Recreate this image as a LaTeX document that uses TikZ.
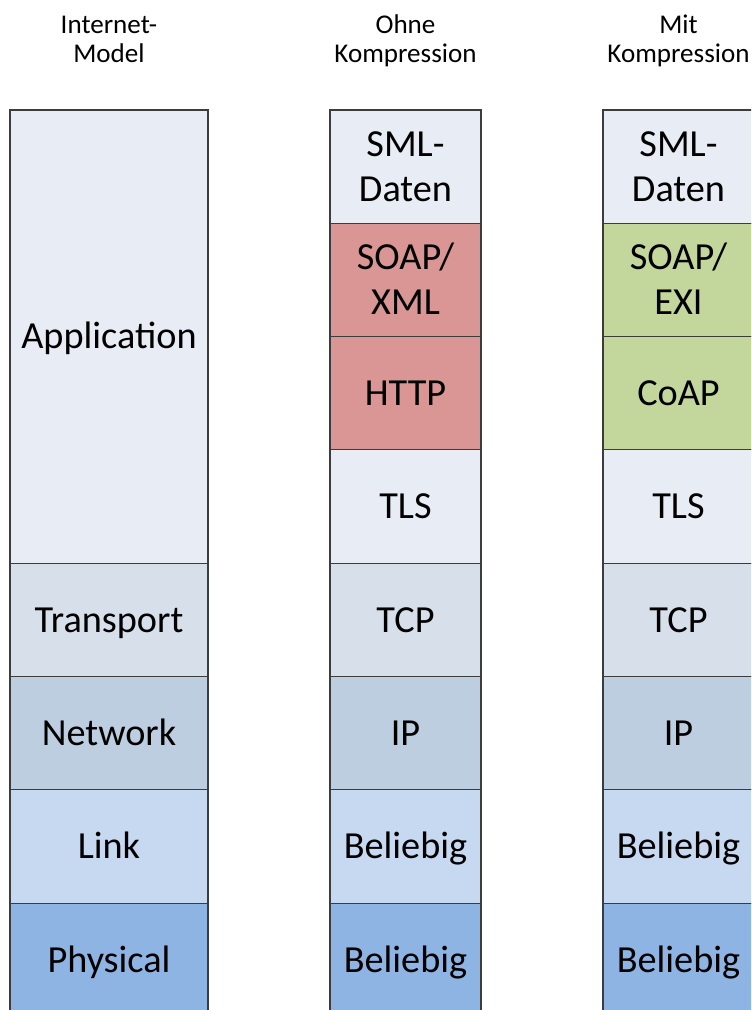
\documentclass[tikz,border=0pt]{standalone}
\usepackage{fontspec}
\setmainfont{Carlito}
\definecolor{appc}{HTML}{E8ECF4}
\definecolor{trac}{HTML}{D6DFEA}
\definecolor{netc}{HTML}{BDCEE1}
\definecolor{linc}{HTML}{C6D9F0}
\definecolor{phyc}{HTML}{8EB4E3}
\definecolor{redc}{HTML}{D99694}
\definecolor{grnc}{HTML}{C3D69B}
\definecolor{edgec}{HTML}{3C3C3C}
\begin{document}
\begin{tikzpicture}[x=0.75pt,y=-0.75pt,
  layer/.style={draw=edgec, line width=0.8pt, inner sep=0pt, outer sep=0pt,
    minimum width=113.25pt, minimum height=85pt,
    font=\fontsize{28.7}{33.75}\selectfont, text height=18.5pt, text depth=0pt, align=center},
  two/.style={text height=52.25pt},
  wide/.style={minimum width=148.5pt},
  head/.style={font=\fontsize{20.3}{21.75}\selectfont, align=center, inner sep=0pt, anchor=base}]
\useasboundingbox (0,0) rectangle (751,1010);
\clip (0,0) rectangle (751,1010);
% headers
\node[head] (h1) at (109,62.5) {Internet-\\Model};
\node[head] (h2) at (405.5,62.5) {Ohne\\Kompression};
\node[head] (h3) at (678.5,62.5) {Mit\\Kompression};
% Internet model
\node[layer, wide, fill=appc, minimum height=339.9pt] (lapp) at (109,336.6) {Application};
\node[layer, wide, fill=trac] (ltra) at (109,619.85) {Transport};
\node[layer, wide, fill=netc] (lnet) at (109,733.15) {Network};
\node[layer, wide, fill=linc] (llin) at (109,846.45) {Link};
\node[layer, wide, fill=phyc] (lphy) at (109,959.75) {Physical};
% ohne Kompression
\node[layer, two, fill=appc] (msml) at (405.5,166.65) {SML-\\Daten};
\node[layer, two, fill=redc] (msoap) at (405.5,279.95) {SOAP/\\XML};
\node[layer, fill=redc] (mhttp) at (405.5,393.25) {HTTP};
\node[layer, fill=appc] (mtls) at (405.5,506.55) {TLS};
\node[layer, fill=trac] (mtcp) at (405.5,619.85) {TCP};
\node[layer, fill=netc] (mip) at (405.5,733.15) {IP};
\node[layer, fill=linc] (mlin) at (405.5,846.45) {Beliebig};
\node[layer, fill=phyc] (mphy) at (405.5,959.75) {Beliebig};
% mit Kompression
\node[layer, two, fill=appc] (rsml) at (678.5,166.65) {SML-\\Daten};
\node[layer, two, fill=grnc] (rsoap) at (678.5,279.95) {SOAP/\\EXI};
\node[layer, fill=grnc] (rcoap) at (678.5,393.25) {CoAP};
\node[layer, fill=appc] (rtls) at (678.5,506.55) {TLS};
\node[layer, fill=trac] (rtcp) at (678.5,619.85) {TCP};
\node[layer, fill=netc] (rip) at (678.5,733.15) {IP};
\node[layer, fill=linc] (rlin) at (678.5,846.45) {Beliebig};
\node[layer, fill=phyc] (rphy) at (678.5,959.75) {Beliebig};
\end{tikzpicture}
\end{document}
